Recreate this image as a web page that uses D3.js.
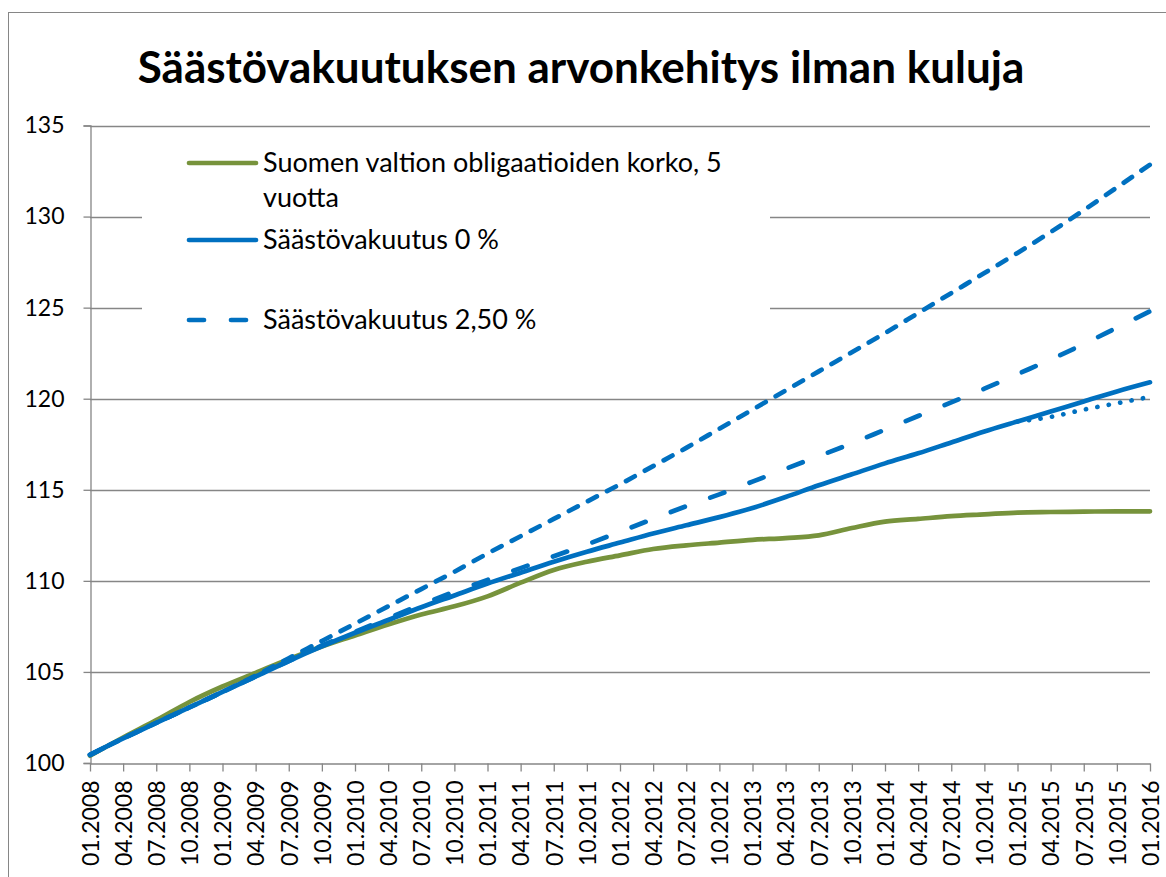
<!DOCTYPE html>
<html>
<head>
<meta charset="utf-8">
<script src="https://cdn.jsdelivr.net/npm/d3@7"></script>
<style>
  html, body { margin: 0; padding: 0; background: #fff; }
  svg { display: block; font-family: Lato, "Open Sans", sans-serif; }
</style>
</head>
<body>
<div id="chart"></div>
<script>
var quarters = ["01.2008","04.2008","07.2008","10.2008","01.2009","04.2009","07.2009","10.2009",
  "01.2010","04.2010","07.2010","10.2010","01.2011","04.2011","07.2011","10.2011",
  "01.2012","04.2012","07.2012","10.2012","01.2013","04.2013","07.2013","10.2013",
  "01.2014","04.2014","07.2014","10.2014","01.2015","04.2015","07.2015","10.2015","01.2016"]

// Suomen valtion obligaatioiden korko, 5 vuotta
var bond = [100.4,101.4,102.35,103.35,104.2,104.95,105.7,106.4,107.0,107.6,108.15,108.6,109.15,109.9,110.6,111.05,
  111.4,111.75,111.95,112.1,112.25,112.35,112.5,112.9,113.25,113.4,113.55,113.65,113.75,113.78,113.8,113.82,113.82]

// Säästövakuutus 0 %
var ins0 = [100.45,101.35,102.2,103.05,103.9,104.75,105.6,106.4,107.15,107.85,108.55,109.2,109.85,110.45,111.05,111.6,
  112.1,112.6,113.05,113.5,114.0,114.6,115.25,115.85,116.45,117.0,117.6,118.2,118.75,119.3,119.85,120.4,120.9]

// Säästövakuutus 2,50 %
var ins25 = [100.45,101.35,102.2,103.05,103.9,104.75,105.6,106.45,107.2,107.95,108.7,109.4,110.05,110.7,111.35,112.0,
  112.7,113.4,114.1,114.75,115.45,116.15,116.85,117.55,118.3,119.05,119.8,120.55,121.35,122.15,123.0,123.9,124.8]

// upper dashed line (legend entry without text)
var insHigh = [100.45,101.35,102.2,103.05,103.9,104.8,105.75,106.7,107.65,108.6,109.55,110.5,111.5,112.45,113.4,114.35,
  115.3,116.3,117.3,118.35,119.4,120.45,121.5,122.55,123.6,124.7,125.8,126.9,128.0,129.15,130.35,131.6,132.85]

// dotted tail from 01.2015
var insLow = [null,null,null,null,null,null,null,null,null,null,null,null,null,null,null,null,
  null,null,null,null,null,null,null,null,null,null,null,null,118.75,119.0,119.4,119.75,120.1]

var yTicks = [100,105,110,115,120,125,130,135]

var width = 1166, height = 877
var plot = {left: 90, right: 1150, top: 125.5, bottom: 763}
var gray = "#868686", blue = "#0070C0", green = "#77933C"

var svg = d3.select("#chart").append("svg")
  .attr("width", width)
  .attr("height", height)

// chart area border (right/bottom fall outside the picture)
svg.append("rect")
  .attr("x", 8.5).attr("y", 12.5)
  .attr("width", 1180).attr("height", 900)
  .attr("fill", "#fff")
  .attr("stroke", gray)

var x = d3.scaleLinear().domain([0, quarters.length - 1]).range([plot.left, plot.right])
var y = d3.scaleLinear().domain([100, 135]).range([plot.bottom, plot.top])

// gridlines
svg.append("g")
  .selectAll("line")
  .data(yTicks.slice(1))
  .join("line")
  .attr("x1", plot.left).attr("x2", plot.right)
  .attr("y1", function(d) { return Math.round(y(d)) + 0.5 })
  .attr("y2", function(d) { return Math.round(y(d)) + 0.5 })
  .attr("stroke", gray)
  .attr("stroke-width", 1.3)

// y axis
var yAxis = svg.append("g")
  .attr("transform", "translate(" + (plot.left + 0.5) + ",0)")
  .call(d3.axisLeft(y).tickValues(yTicks).tickSize(7).tickPadding(19))
yAxis.selectAll("path, line").attr("stroke", gray).attr("stroke-width", 1.3)
yAxis.selectAll("text")
  .attr("fill", "#000")
  .style("font-size", "23px")
  .style("font-family", "Lato, sans-serif")

// x axis
var xAxis = svg.append("g")
  .attr("transform", "translate(0," + (plot.bottom + 0.5) + ")")
  .call(d3.axisBottom(x)
    .tickValues(d3.range(quarters.length))
    .tickFormat(function(i) { return quarters[i] })
    .tickSize(8).tickSizeOuter(0))
xAxis.selectAll("path, line").attr("stroke", gray).attr("stroke-width", 1.3)
xAxis.selectAll("text")
  .attr("fill", "#000")
  .style("font-size", "23px")
  .style("font-family", "Lato, sans-serif")
  .attr("text-anchor", "end")
  .attr("transform", "rotate(-90)")
  .attr("x", -17)
  .attr("y", 0)
  .attr("dy", "0.36em")

var line = d3.line()
  .defined(function(d) { return d != null })
  .x(function(d, i) { return x(i) })
  .y(function(d) { return y(d) })
  .curve(d3.curveMonotoneX)

var series = [
  {name: "bond", values: bond, color: green, dash: null},
  {name: "ins0", values: ins0, color: blue, dash: null},
  {name: "insHigh", values: insHigh, color: blue, dash: "10,11.5"},
  {name: "ins25", values: ins25, color: blue, dash: "15,27"},
  {name: "insLow", values: insLow, color: blue, dash: "0.1,11.5"}
]

svg.append("g")
  .selectAll("path")
  .data(series)
  .join("path")
  .attr("d", function(s) { return line(s.values) })
  .attr("fill", "none")
  .attr("stroke", function(s) { return s.color })
  .attr("stroke-width", 4.7)
  .attr("stroke-linecap", "round")
  .attr("stroke-linejoin", "round")
  .attr("stroke-dasharray", function(s) { return s.dash })

// legend
var legend = svg.append("g")
legend.append("rect")
  .attr("x", 142).attr("y", 134)
  .attr("width", 628).attr("height", 210)
  .attr("fill", "#fff")

var legendItems = [
  {lines: ["Suomen valtion obligaatioiden korko, 5", "vuotta"], y: 163, color: green, dash: null},
  {lines: ["Säästövakuutus 0 %"], y: 240, color: blue, dash: null},
  {lines: ["Säästövakuutus 2,50 %"], y: 320, color: blue, dash: "15,27"}
]

legendItems.forEach(function(item) {
  legend.append("line")
    .attr("x1", 189).attr("x2", 256)
    .attr("y1", item.y).attr("y2", item.y)
    .attr("stroke", item.color)
    .attr("stroke-width", 4.7)
    .attr("stroke-linecap", "round")
    .attr("stroke-dasharray", item.dash)
  var t = legend.append("text")
    .attr("x", 263).attr("y", item.y)
    .style("font-size", "27px")
    .attr("fill", "#000")
  item.lines.forEach(function(l, k) {
    t.append("tspan").attr("x", 263).attr("dy", k === 0 ? "0.35em" : "35px").text(l)
  })
})

// title
svg.append("text")
  .attr("x", 581).attr("y", 83)
  .attr("text-anchor", "middle")
  .style("font-size", "44px")
  .style("font-weight", "bold")
  .attr("fill", "#000")
  .text("Säästövakuutuksen arvonkehitys ilman kuluja")
</script>
</body>
</html>
